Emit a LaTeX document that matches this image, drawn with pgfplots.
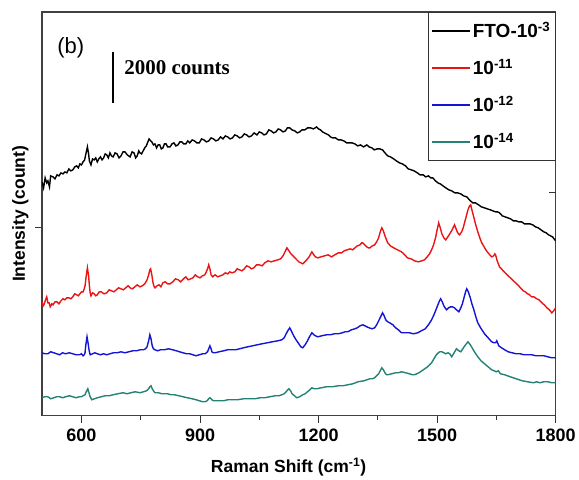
\documentclass[border=0pt]{standalone}
\usepackage{pgfplots}
\pgfplotsset{compat=1.18}
\usepackage{fontspec}
\setmainfont{Liberation Sans}
\newfontfamily\timesb{Liberation Serif}
\definecolor{ftored}{RGB}{235,20,20}
\definecolor{ftoblue}{RGB}{20,20,215}
\definecolor{ftoteal}{RGB}{35,130,115}

\begin{document}
\begin{tikzpicture}
\begin{axis}[
    scale only axis,
    width=514pt, height=404pt,
    xmin=500, xmax=1800,
    ymin=0, ymax=404,
    xtick={600,900,1200,1500,1800},
    minor xtick={750,1050,1350,1650},
    xtick pos=bottom,
    ytick={188},
    yticklabels={},
    ytick pos=left,
    extra y ticks={223},
    extra y tick labels={},
    extra y tick style={ytick pos=right, tick align=inside},
    tick align=outside,
    major tick length=7pt,
    minor tick length=4pt,
    tick style={black!80, line width=1pt},
    axis line style={black!75, line width=1.3pt},
    /pgf/number format/assume math mode=true,
    /pgf/number format/1000 sep={},
    xticklabel style={font=\fontsize{18}{18}\selectfont\bfseries, yshift=-3pt},
    xlabel={Raman Shift (cm\textsuperscript{-1})},
    ylabel={Intensity (count)},
    xlabel style={font=\fontsize{17.5}{17.5}\selectfont\bfseries, at={(axis description cs:0.48,-0.128)}, anchor=center},
    ylabel style={font=\fontsize{17.5}{17.5}\selectfont\bfseries, at={(axis description cs:-0.042,0.5)}, anchor=center},
    legend cell align=left,
    legend style={
        at={(1,1)}, anchor=north east,
        draw=black!80, line width=0.8pt,
        font=\fontsize{19}{19}\selectfont\bfseries,
        row sep=16pt, inner xsep=3pt, inner ysep=8pt,
        /tikz/every even column/.append style={column sep=2pt},
    },
    legend image code/.code={\draw[#1, line width=1.4pt] (0pt,0pt) -- (38pt,0pt);},
]

\addplot[black, line width=1.4pt] coordinates {
(500,234)(504,228)(508,238)(512,233)(515,235)(519,229)(522,240)(528,239)(533,237)(538,241)
(543,240)(548,243)(553,242)(558,244)(563,243)(568,247)(573,245)(578,246)(583,249)(588,250)
(592,248)(596,252)(600,251)(604,254)(608,256)(610,260)(615,269)(618,262)(620,255)(624,251)
(628,257)(632,256)(636,258)(640,254)(644,257)(648,259)(652,256)(656,258)(660,262)(664,261)
(668,258)(672,263)(676,260)(680,259)(685,263)(690,262)(695,258)(700,260)(705,264)(710,264)
(716,261)(723,259)(728,264)(733,263)(737,258)(741,260)(745,265)(748,263)(752,262)(756,265)
(760,268)(764,270)(768,274)(771,277)(775,275)(778,274)(782,271)(786,272)(790,268)(794,271)
(798,271)(802,267)(806,268)(810,272)(814,272)(818,269)(824,269)(829,272)(834,273)(839,270)
(844,271)(849,274)(854,274)(859,272)(864,272)(869,275)(874,273)(880,276)(886,275)(892,273)
(898,273)(904,277)(910,276)(916,274)(922,275)(928,278)(934,277)(940,275)(946,276)(952,279)
(958,277)(964,280)(970,279)(976,277)(982,278)(988,281)(994,280)(1000,278)(1006,279)(1012,282)
(1018,281)(1024,279)(1030,280)(1037,283)(1044,281)(1050,284)(1056,283)(1062,281)(1068,282)(1074,286)
(1080,285)(1086,283)(1092,284)(1098,287)(1104,286)(1110,284)(1116,285)(1121,288)(1127,288)(1133,286)
(1140,285)(1146,283)(1152,284)(1158,286)(1165,286)(1172,288)(1180,288)(1187,287)(1195,289)(1200,287)
(1205,286)(1210,284)(1215,283)(1220,282)(1225,281)(1230,279)(1236,278)(1243,278)(1250,276)(1257,276)
(1264,275)(1271,273)(1278,273)(1285,273)(1292,272)(1299,270)(1306,271)(1314,269)(1322,271)(1328,269)
(1335,268)(1341,266)(1348,267)(1355,267)(1362,266)(1368,263)(1375,260)(1382,259)(1390,257)(1397,255)
(1405,253)(1412,252)(1420,250)(1427,247)(1435,246)(1442,245)(1450,243)(1457,241)(1465,241)(1471,239)
(1478,240)(1484,238)(1489,238)(1496,235)(1502,233)(1508,232)(1515,230)(1522,228)(1530,226)(1537,225)
(1545,223)(1552,223)(1560,222)(1567,220)(1575,219)(1582,216)(1590,213)(1597,213)(1605,211)(1612,209)
(1620,208)(1627,207)(1635,206)(1641,205)(1648,204)(1653,204)(1658,203)(1665,200)(1672,199)(1679,198)
(1686,197)(1693,195)(1700,195)(1707,194)(1714,194)(1721,192)(1728,192)(1735,192)(1742,191)(1749,189)
(1756,188)(1763,186)(1770,184)(1776,183)(1782,181)(1787,180)(1792,179)(1796,177)(1800,175)
};
\addlegendentry{FTO-10\textsuperscript{-3}}

\addplot[ftored, line width=1.4pt] coordinates {
(500,114)(503,110)(506,112)(509,116)(512,119)(515,113)(518,113)(521,109)(525,112)(528,111)
(533,114)(538,114)(543,112)(548,115)(553,117)(558,116)(563,118)(568,118)(573,117)(578,119)
(583,122)(588,121)(592,120)(596,122)(600,124)(604,124)(607,127)(609,130)(612,140)(615,148)
(618,140)(620,130)(622,123)(624,120)(628,123)(632,122)(636,120)(640,121)(645,124)(650,124)
(657,122)(664,123)(670,126)(676,125)(682,124)(688,126)(694,128)(700,127)(706,126)(712,128)
(718,130)(723,128)(729,127)(735,129)(741,131)(748,129)(754,130)(760,132)(763,134)(766,136)
(770,141)(773,146)(775,147)(778,141)(781,133)(784,129)(786,128)(791,130)(796,131)(801,129)
(806,133)(812,134)(818,132)(824,132)(831,134)(838,137)(845,136)(851,134)(858,137)(864,139)
(870,136)(876,137)(882,138)(888,141)(894,139)(900,138)(906,140)(912,141)(916,144)(919,147)
(922,151)(925,147)(928,141)(932,139)(938,141)(945,139)(951,140)(958,141)(964,143)(970,142)
(975,144)(981,143)(988,144)(994,147)(1000,146)(1006,145)(1012,147)(1018,150)(1024,149)(1030,147)
(1036,148)(1043,151)(1050,151)(1057,150)(1064,153)(1072,155)(1080,154)(1088,155)(1097,156)(1104,157)
(1110,160)(1115,164)(1120,168)(1125,165)(1130,162)(1135,160)(1140,158)(1145,156)(1150,154)(1155,153)
(1160,152)(1165,154)(1170,156)(1176,159)(1183,164)(1188,161)(1192,159)(1198,158)(1206,159)(1215,160)
(1224,161)(1233,159)(1241,161)(1250,163)(1258,163)(1265,165)(1272,166)(1280,167)(1286,166)(1292,168)
(1298,170)(1305,171)(1309,173)(1312,173)(1317,171)(1322,169)(1326,168)(1330,168)(1336,170)(1342,171)
(1347,174)(1352,178)(1356,184)(1360,188)(1364,185)(1368,180)(1372,176)(1375,173)(1382,170)(1390,168)
(1400,166)(1410,164)(1418,161)(1425,158)(1434,157)(1443,155)(1452,154)(1461,155)(1468,156)(1475,159)
(1481,162)(1486,166)(1491,171)(1496,178)(1500,186)(1504,193)(1508,188)(1512,182)(1517,178)(1522,176)
(1527,179)(1532,182)(1538,186)(1544,191)(1548,187)(1551,184)(1554,182)(1557,181)(1562,184)(1566,188)
(1570,194)(1574,200)(1578,206)(1582,210)(1585,211)(1588,206)(1592,200)(1597,192)(1603,184)(1608,178)
(1613,173)(1619,169)(1625,165)(1631,162)(1638,159)(1643,160)(1646,162)(1648,161)(1652,155)(1655,152)
(1658,149)(1665,146)(1672,143)(1680,140)(1688,137)(1696,134)(1704,131)(1711,128)(1718,125)(1723,124)
(1729,122)(1734,121)(1739,119)(1745,119)(1752,117)(1758,116)(1765,113)(1771,111)(1778,108)(1784,106)
(1790,103)(1795,105)(1800,108)
};
\addlegendentry{10\textsuperscript{-11}}

\addplot[ftoblue, line width=1.4pt] coordinates {
(500,63)(507,62)(515,62)(522,64)(530,63)(537,62)(545,61)(552,63)(560,62)(569,63)
(578,62)(586,61)(595,61)(600,62)(604,60)(607,61)(609,63)(611,71)(614,79)(617,72)
(619,66)(622,61)(628,62)(634,63)(640,62)(648,61)(656,62)(664,61)(672,62)(681,63)
(690,63)(700,64)(710,63)(720,64)(730,65)(740,65)(748,66)(757,66)(762,67)(766,69)
(770,75)(773,81)(776,77)(779,70)(782,67)(786,66)(793,65)(800,66)(810,66)(820,67)
(831,66)(840,65)(848,64)(857,63)(866,62)(874,62)(882,61)(890,60)(898,61)(907,62)
(913,62)(919,64)(922,67)(925,70)(928,67)(930,64)(934,63)(938,63)(948,64)(960,65)
(970,66)(980,66)(990,66)(1000,67)(1010,68)(1021,69)(1033,70)(1045,71)(1057,72)(1070,73)
(1083,74)(1097,75)(1107,76)(1113,78)(1118,82)(1122,85)(1127,88)(1131,85)(1137,80)(1143,76)
(1150,72)(1155,69)(1160,68)(1166,71)(1172,75)(1177,79)(1183,83)(1188,81)(1192,80)(1198,79)
(1208,80)(1220,81)(1230,81)(1240,82)(1250,82)(1260,83)(1267,84)(1274,84)(1283,86)(1292,87)
(1298,88)(1305,90)(1312,91)(1317,90)(1322,89)(1328,88)(1335,87)(1342,88)(1347,91)(1352,95)
(1357,99)(1362,103)(1366,100)(1370,96)(1375,94)(1380,93)(1388,91)(1395,88)(1402,86)(1410,83)
(1420,83)(1430,83)(1440,82)(1451,83)(1460,85)(1470,87)(1478,91)(1486,96)(1492,101)(1498,107)
(1503,112)(1506,115)(1509,117)(1513,114)(1517,110)(1520,108)(1524,106)(1529,108)(1534,109)(1539,109)
(1544,108)(1549,106)(1555,104)(1560,108)(1564,112)(1568,118)(1572,124)(1575,127)(1579,124)(1584,118)
(1588,112)(1593,106)(1598,99)(1603,93)(1610,88)(1620,82)(1629,78)(1638,74)(1644,73)(1648,73)
(1651,75)(1654,72)(1656,70)(1663,68)(1671,66)(1680,64)(1690,63)(1700,62)(1710,62)(1720,61)
(1729,61)(1740,61)(1750,60)(1760,60)(1770,60)(1780,59)(1790,58)(1800,58)
};
\addlegendentry{10\textsuperscript{-12}}

\addplot[ftoteal, line width=1.4pt] coordinates {
(500,18)(507,19)(515,19)(522,17)(530,18)(537,19)(545,19)(552,18)(560,19)(569,20)
(578,19)(586,18)(595,19)(600,19)(604,20)(609,21)(612,24)(616,27)(619,23)(621,20)
(626,16)(633,17)(640,18)(650,19)(660,20)(670,20)(680,21)(692,22)(705,23)(715,22)
(725,23)(736,24)(748,23)(757,24)(765,25)(770,27)(773,29)(776,30)(779,27)(782,25)
(786,23)(795,23)(803,22)(810,22)(818,22)(826,21)(835,21)(846,20)(857,19)(868,18)
(880,17)(890,16)(898,15)(907,14)(913,14)(918,15)(922,17)(925,18)(928,17)(930,16)
(934,15)(938,15)(948,15)(960,15)(970,16)(981,16)(995,16)(1010,17)(1025,17)(1040,17)
(1052,18)(1064,18)(1077,19)(1090,20)(1100,20)(1107,21)(1113,22)(1118,24)(1122,26)(1125,27)
(1129,25)(1133,22)(1139,20)(1145,18)(1152,19)(1160,21)(1166,22)(1172,24)(1178,26)(1183,28)
(1189,27)(1195,27)(1207,28)(1220,29)(1235,29)(1250,30)(1262,30)(1274,31)(1287,32)(1300,34)
(1315,35)(1330,37)(1336,37)(1342,38)(1347,40)(1352,42)(1356,45)(1360,48)(1364,46)(1368,43)
(1372,41)(1375,41)(1385,42)(1395,43)(1402,43)(1410,44)(1420,43)(1430,42)(1437,41)(1443,41)
(1454,43)(1465,46)(1476,49)(1486,53)(1492,57)(1498,61)(1503,63)(1507,64)(1512,64)(1517,63)
(1522,62)(1527,63)(1532,62)(1537,59)(1543,63)(1549,67)(1555,65)(1560,64)(1565,67)(1570,70)
(1574,72)(1578,74)(1584,71)(1590,67)(1596,63)(1603,59)(1611,55)(1620,52)(1629,49)(1638,46)
(1644,45)(1650,44)(1655,45)(1660,42)(1671,41)(1685,39)(1700,37)(1715,35)(1729,34)(1744,33)
(1752,34)(1760,33)(1770,34)(1780,34)(1790,33)(1800,33)
};
\addlegendentry{10\textsuperscript{-14}}

\draw[black, line width=1.6pt] (axis cs:680,364) -- (axis cs:680,313);
\node[anchor=west, inner xsep=0pt, font=\timesb\fontsize{21}{21}\selectfont\bfseries] at (axis cs:708,348) {2000 counts};
\node[anchor=west, font=\fontsize{22}{22}\selectfont] at (axis cs:530,368) {(b)};
\end{axis}
\path ([shift={(-42pt,-62pt)}]current axis.south west) rectangle ([shift={(23pt,12pt)}]current axis.north east);
\end{tikzpicture}
\end{document}
